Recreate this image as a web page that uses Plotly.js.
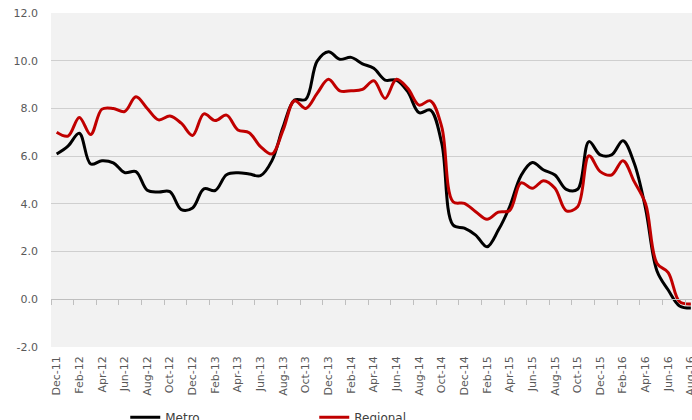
<!DOCTYPE html>
<html>
<head>
<meta charset="utf-8">
<script src="https://cdn.plot.ly/plotly-3.0.1.min.js"></script>
<style>html,body{margin:0;padding:0;background:#fff;}#chart{width:692px;height:420px;}</style>
</head>
<body>
<div id="chart"></div>
<script>
var months = ["Dec-11","Jan-12","Feb-12","Mar-12","Apr-12","May-12","Jun-12","Jul-12","Aug-12","Sep-12","Oct-12","Nov-12",
  "Dec-12","Jan-13","Feb-13","Mar-13","Apr-13","May-13","Jun-13","Jul-13","Aug-13","Sep-13","Oct-13","Nov-13",
  "Dec-13","Jan-14","Feb-14","Mar-14","Apr-14","May-14","Jun-14","Jul-14","Aug-14","Sep-14","Oct-14","Nov-14",
  "Dec-14","Jan-15","Feb-15","Mar-15","Apr-15","May-15","Jun-15","Jul-15","Aug-15","Sep-15","Oct-15","Nov-15",
  "Dec-15","Jan-16","Feb-16","Mar-16","Apr-16","May-16","Jun-16","Jul-16","Aug-16"];
var metro = [6.09,6.42,6.96,5.67,5.81,5.72,5.31,5.35,4.57,4.50,4.51,3.76,
  3.83,4.63,4.56,5.22,5.30,5.25,5.18,5.80,7.23,8.35,8.38,9.98,
  10.38,10.06,10.14,9.87,9.68,9.19,9.19,8.70,7.82,7.93,6.54,3.11,
  2.98,2.69,2.20,2.90,3.88,5.18,5.73,5.42,5.21,4.61,4.61,6.61,
  6.05,6.05,6.65,5.70,3.80,1.20,0.39,-0.28,-0.37];
var regional = [7.00,6.84,7.62,6.91,7.97,8.00,7.87,8.49,8.00,7.52,7.68,7.38,
  6.87,7.77,7.49,7.72,7.10,6.98,6.40,6.09,7.10,8.32,8.00,8.63,
  9.22,8.74,8.74,8.80,9.16,8.42,9.22,8.84,8.14,8.32,7.23,4.09,
  4.02,3.67,3.35,3.65,3.72,4.88,4.65,4.97,4.65,3.71,3.88,6.02,
  5.35,5.21,5.81,4.93,4.00,1.51,1.12,-0.10,-0.20];
var yTickVals = [-2,0,2,4,6,8,10,12];
var yTickText = ["-2.0","0.0","2.0","4.0","6.0","8.0","10.0","12.0"];

var idx = months.map(function(m,i){return i;});
var labelVals = idx.filter(function(i){return i%2===0;});
var labelText = labelVals.map(function(i){return months[i];});
var boundaryVals = labelVals.map(function(i){return i-0.5;});

var tickFont = {family:"DejaVu Sans", size:11, color:"#595959"};

var traces = [
  {x: idx, y: metro, name: "Metro", type: "scatter", mode: "lines",
   line: {color: "#000000", width: 3, shape: "spline", smoothing: 1}},
  {x: idx, y: regional, name: "Regional", type: "scatter", mode: "lines",
   line: {color: "#c00000", width: 3, shape: "spline", smoothing: 1}},
  {x: [0], y: [null], xaxis: "x2", showlegend: false, hoverinfo: "skip", mode: "lines"}
];

var layout = {
  width: 692, height: 420,
  margin: {l: 51, r: 0, t: 13, b: 73, autoexpand: false},
  paper_bgcolor: "#ffffff",
  plot_bgcolor: "#f2f2f2",
  showlegend: true,
  legend: {orientation: "h", xref: "container", x: 0.181, xanchor: "left",
    yref: "container", y: 0.041, yanchor: "top",
    font: {family: "DejaVu Sans", size: 12, color: "#404040"}, entrywidth: 144, bgcolor: "rgba(0,0,0,0)"},
  xaxis: {range: [-0.5, 56.1], tickvals: labelVals, ticktext: labelText, tickangle: -90,
    showgrid: false, zeroline: false, showline: false, ticks: "", tickfont: tickFont,
    ticklabelstandoff: 6, ticklabeloverflow: "allow", automargin: false},
  xaxis2: {overlaying: "x", anchor: "free", position: 2/14, range: [-0.5, 56.1],
    tickvals: boundaryVals, ticks: "outside", ticklen: 5, tickcolor: "#bfbfbf", tickwidth: 1,
    showticklabels: false, showgrid: false, zeroline: false, showline: true, linecolor: "#bfbfbf", linewidth: 1},
  yaxis: {range: [-2, 12], tickvals: yTickVals, ticktext: yTickText, showgrid: true,
    gridcolor: "#cfcfcf", gridwidth: 1, zeroline: false, showline: false, ticks: "",
    tickfont: tickFont, ticklabelstandoff: 12, automargin: false}
};

Plotly.newPlot("chart", traces, layout, {displayModeBar: false, staticPlot: true});
</script>
</body>
</html>
